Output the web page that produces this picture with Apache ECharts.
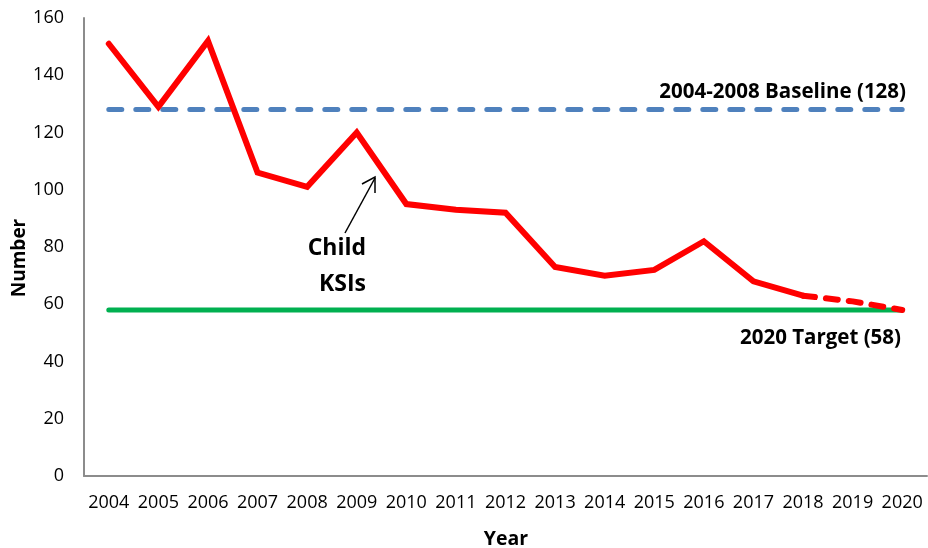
<!DOCTYPE html>
<html>
<head>
<meta charset="utf-8">
<script src="https://cdn.jsdelivr.net/npm/echarts@6/dist/echarts.min.js"></script>
<style>
  html, body { margin: 0; padding: 0; background: #fff; }
  #chart { width: 928px; height: 548px; }
</style>
</head>
<body>
<div id="chart"></div>
<script>
// Child killed or seriously injured (KSI) casualties by year
const years = ['2004','2005','2006','2007','2008','2009','2010','2011','2012',
               '2013','2014','2015','2016','2017','2018','2019','2020'];
const childKSI = [151, 129, 152, 106, 101, 120, 95, 93, 92, 73, 70, 72, 82, 68, 63, null, null];
const projection = [null, null, null, null, null, null, null, null, null, null, null, null, null, null, 63, 61, 58];
const baselineValue = 128;
const targetValue = 58;
const baseline = years.map(() => baselineValue);
const target = years.map(() => targetValue);
const yTicks = { min: 0, max: 160, interval: 20 };

const FONT = '"Open Sans", "Liberation Sans", sans-serif';

const chart = echarts.init(document.getElementById('chart'), null, { renderer: 'canvas' });

chart.setOption({
  animation: false,
  backgroundColor: '#ffffff',
  grid: { left: 84, right: 1, top: 18, bottom: 72, containLabel: false, outerBoundsMode: 'none' },
  xAxis: {
    type: 'category',
    data: years,
    boundaryGap: true,
    axisLine: { lineStyle: { color: '#8c8c8c', width: 2 } },
    axisTick: { show: false },
    axisLabel: { fontFamily: FONT, fontSize: 18, color: '#000', margin: 18, interval: 0 },
    splitLine: { show: false }
  },
  yAxis: {
    type: 'value',
    min: yTicks.min,
    max: yTicks.max,
    interval: yTicks.interval,
    axisLine: { show: true, lineStyle: { color: '#8c8c8c', width: 2 } },
    axisTick: { show: false },
    axisLabel: { fontFamily: FONT, fontSize: 18, color: '#000', margin: 20 },
    splitLine: { show: false }
  },
  series: [
    {
      name: 'Target',
      type: 'line',
      data: target,
      symbol: 'none',
      lineStyle: { color: '#00b050', width: 5, cap: 'round' },
      z: 2
    },
    {
      name: 'Baseline',
      type: 'line',
      data: baseline,
      symbol: 'none',
      lineStyle: { color: '#4f81bd', width: 5, type: [13, 14], cap: 'round' },
      z: 3
    },
    {
      name: 'Child KSIs',
      type: 'line',
      data: childKSI,
      symbol: 'none',
      lineStyle: { color: '#ff0000', width: 6, cap: 'round', join: 'miter' },
      z: 4
    },
    {
      name: 'Projection',
      type: 'line',
      data: projection,
      symbol: 'none',
      lineStyle: { color: '#ff0000', width: 6, type: [12, 11], cap: 'round' },
      z: 4
    }
  ],
  graphic: [
    {
      type: 'text',
      style: {
        text: 'Year', x: 506, y: 539,
        align: 'center', verticalAlign: 'middle',
        font: 'bold 19.5px ' + FONT, fill: '#000'
      }
    },
    {
      type: 'text',
      x: 20, y: 258, rotation: Math.PI / 2,
      style: {
        text: 'Number', x: 0, y: 0,
        align: 'center', verticalAlign: 'middle',
        font: 'bold 19px ' + FONT, fill: '#000'
      }
    },
    {
      type: 'text',
      style: {
        text: '2004-2008 Baseline (128)', x: 906, y: 92,
        align: 'right', verticalAlign: 'middle',
        font: 'bold 20.5px ' + FONT, fill: '#000'
      }
    },
    {
      type: 'text',
      style: {
        text: '2020 Target (58)', x: 901, y: 338,
        align: 'right', verticalAlign: 'middle',
        font: 'bold 20.5px ' + FONT, fill: '#000'
      }
    },
    {
      type: 'text',
      style: {
        text: 'Child', x: 366, y: 248,
        align: 'right', verticalAlign: 'middle',
        font: 'bold 23px ' + FONT, fill: '#000'
      }
    },
    {
      type: 'text',
      style: {
        text: 'KSIs', x: 366, y: 284,
        align: 'right', verticalAlign: 'middle',
        font: 'bold 23px ' + FONT, fill: '#000'
      }
    },
    {
      type: 'line',
      shape: { x1: 345, y1: 233, x2: 375, y2: 178 },
      style: { stroke: '#000', lineWidth: 1.5 }
    },
    {
      type: 'polyline',
      shape: { points: [[362, 184], [375, 177], [375, 193]] },
      style: { stroke: '#000', lineWidth: 1.5, fill: null }
    }
  ]
});
</script>
</body>
</html>
